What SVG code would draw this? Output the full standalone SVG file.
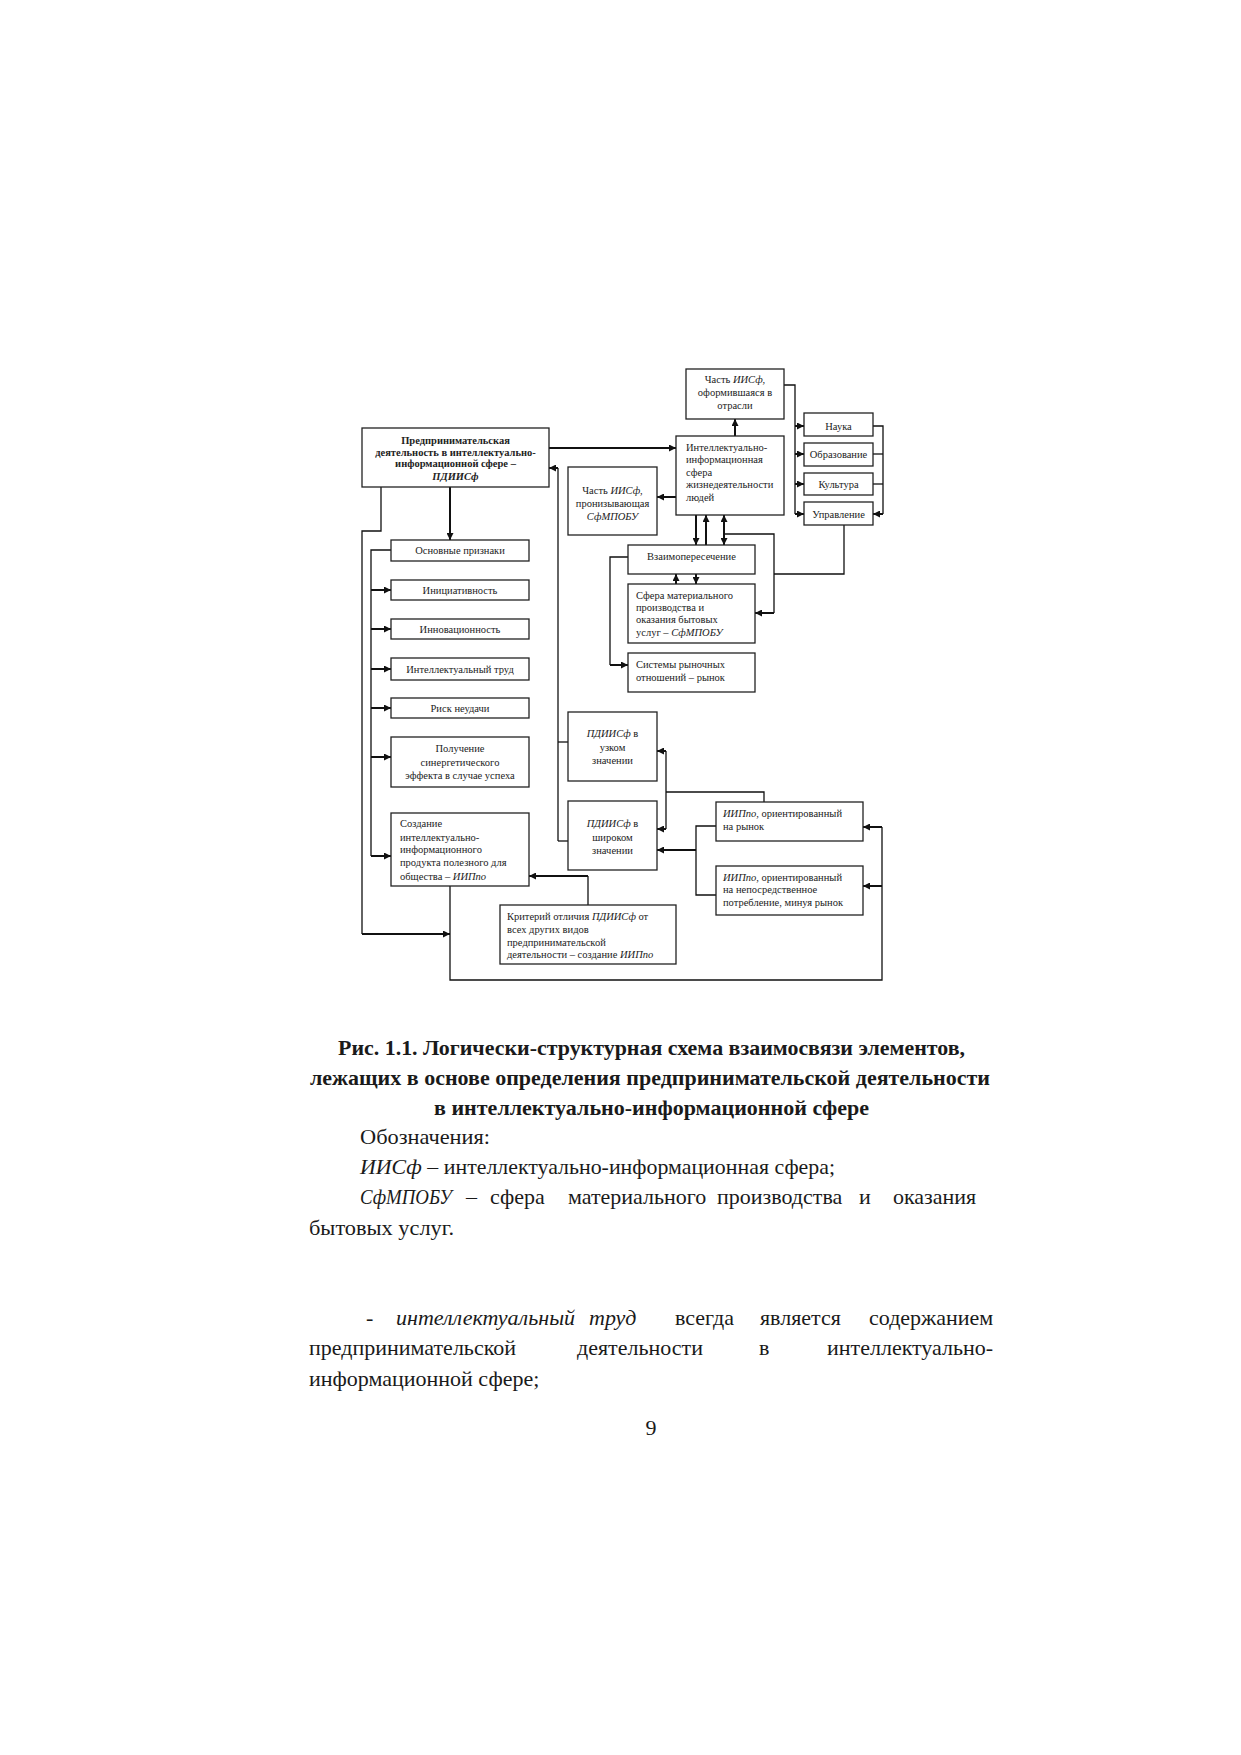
<svg xmlns="http://www.w3.org/2000/svg" width="1241" height="1755" viewBox="0 0 1241 1755">
<defs>
<marker id="ah" viewBox="0 0 10 10" refX="10" refY="5" markerWidth="8" markerHeight="7" markerUnits="userSpaceOnUse" orient="auto-start-reverse"><path d="M0,0 L10,5 L0,10 z" fill="#111"/></marker>
<style>
.box{fill:#fff;stroke:#222;stroke-width:1.3}
.ln{fill:none;stroke:#111;stroke-width:1.3}
.th{stroke-width:2}
.a{marker-end:url(#ah)}
.a2{marker-start:url(#ah);marker-end:url(#ah)}
.t{font-family:"Liberation Serif","Times New Roman",serif;font-size:10.5px;fill:#222}
.c{text-anchor:middle}
.b{font-weight:bold}
.i{font-style:italic}
.cap{font-family:"Liberation Serif","Times New Roman",serif;font-size:22px;font-weight:bold;fill:#1a1a1a}
.body{font-family:"Liberation Serif","Times New Roman",serif;font-size:22px;fill:#1a1a1a}
</style>
</defs>
<rect x="0" y="0" width="1241" height="1755" fill="#fff"/>

<g id="connectors">
<path class="ln th a" d="M549,448 H676"/>
<path class="ln th a" d="M450,487 V540"/>
<path class="ln" d="M381,487 V531 H362 V934"/>
<path class="ln th a" d="M362,934 H450"/>
<path class="ln" d="M391,550 H371 V856"/>
<path class="ln th a" d="M371,590 H391"/>
<path class="ln th a" d="M371,629 H391"/>
<path class="ln th a" d="M371,669 H391"/>
<path class="ln th a" d="M371,708 H391"/>
<path class="ln th a" d="M371,757 H391"/>
<path class="ln th a" d="M371,856 H391"/>
<path class="ln th a" d="M735,436 V419"/>
<path class="ln th a" d="M676,497 H657"/>
<path class="ln" d="M784,385 H795 V514"/>
<path class="ln th a" d="M795,426 H804"/>
<path class="ln th a" d="M795,454 H804"/>
<path class="ln th a" d="M795,484 H804"/>
<path class="ln th a" d="M795,514 H804"/>
<path class="ln" d="M873,426 H883 V514"/>
<path class="ln" d="M873,454 H883"/>
<path class="ln" d="M873,484 H883"/>
<path class="ln th a" d="M883,514 H873"/>
<path class="ln" d="M844,525 V574 H774"/>
<path class="ln" d="M724,534 H774 V613"/>
<path class="ln th a" d="M774,613 H755"/>
<path class="ln th a" d="M696,515 V545"/>
<path class="ln th a" d="M706,545 V515"/>
<path class="ln th a2" d="M724,515 V545"/>
<path class="ln th a" d="M676,584 V574"/>
<path class="ln th a" d="M696,574 V584"/>
<path class="ln" d="M628,557 H610 V665"/>
<path class="ln th a" d="M610,665 H628"/>
<path class="ln" d="M558,841 V468"/>
<path class="ln th a" d="M558,468 H549"/>
<path class="ln" d="M558,742 H568"/>
<path class="ln" d="M558,841 H568"/>
<path class="ln" d="M764,802 V792 H666"/>
<path class="ln" d="M666,751 V829"/>
<path class="ln th a" d="M666,751 H657"/>
<path class="ln th a" d="M666,829 H657"/>
<path class="ln" d="M716,826 H696 V895 H716"/>
<path class="ln th a" d="M696,850 H657"/>
<path class="ln" d="M450,886 V980 H882 V827"/>
<path class="ln th a" d="M882,827 H863"/>
<path class="ln th a" d="M882,886 H863"/>
<path class="ln" d="M588,905 V876"/>
<path class="ln th a" d="M588,876 H529"/>
</g>

<g id="n_pdiisf">
<rect class="box" x="362" y="428" width="187" height="59"/>
<text class="t c b" x="455.5" y="444">Предпринимательская</text>
<text class="t c b" x="455.5" y="456">деятельность в интеллектуально-</text>
<text class="t c b" x="455.5" y="467">информационной сфере –</text>
<text class="t c b i" x="455.5" y="480">ПДИИСф</text>
</g>

<g id="n_otrasli">
<rect class="box" x="686" y="369" width="98" height="50"/>
<text class="t c" x="735" y="383">Часть <tspan class="i">ИИСф</tspan>,</text>
<text class="t c" x="735" y="396">оформившаяся в</text>
<text class="t c" x="735" y="409">отрасли</text>
</g>

<g id="n_iis">
<rect class="box" x="676" y="436" width="108" height="79"/>
<text class="t" x="686" y="451">Интеллектуально-</text>
<text class="t" x="686" y="463">информационная</text>
<text class="t" x="686" y="476">сфера</text>
<text class="t" x="686" y="488">жизнедеятельности</text>
<text class="t" x="686" y="501">людей</text>
</g>

<g id="n_pronizyv">
<rect class="box" x="568" y="467" width="89" height="68"/>
<text class="t c" x="612.5" y="494">Часть <tspan class="i">ИИСф</tspan>,</text>
<text class="t c" x="612.5" y="507">пронизывающая</text>
<text class="t c i" x="612.5" y="520">СфМПОБУ</text>
</g>

<g id="n_nauka">
<rect class="box" x="804" y="413" width="69" height="23"/>
<text class="t c" x="838.5" y="429.5">Наука</text>
</g>
<g id="n_obraz">
<rect class="box" x="804" y="443" width="69" height="23"/>
<text class="t c" x="838.5" y="458">Образование</text>
</g>
<g id="n_kultura">
<rect class="box" x="804" y="473" width="69" height="22"/>
<text class="t c" x="838.5" y="488">Культура</text>
</g>
<g id="n_upravl">
<rect class="box" x="804" y="502" width="69" height="23"/>
<text class="t c" x="838.5" y="517.5">Управление</text>
</g>

<g id="n_osnov">
<rect class="box" x="391" y="540" width="138" height="21"/>
<text class="t c" x="460" y="554">Основные признаки</text>
</g>
<g id="n_inic">
<rect class="box" x="391" y="580" width="138" height="20"/>
<text class="t c" x="460" y="594">Инициативность</text>
</g>
<g id="n_innov">
<rect class="box" x="391" y="619" width="138" height="20"/>
<text class="t c" x="460" y="633">Инновационность</text>
</g>
<g id="n_trud">
<rect class="box" x="391" y="658" width="138" height="22"/>
<text class="t c" x="460" y="673">Интеллектуальный труд</text>
</g>
<g id="n_risk">
<rect class="box" x="391" y="698" width="138" height="20"/>
<text class="t c" x="460" y="712">Риск неудачи</text>
</g>
<g id="n_sinerg">
<rect class="box" x="391" y="737" width="138" height="50"/>
<text class="t c" x="460" y="752">Получение</text>
<text class="t c" x="460" y="766">синергетического</text>
<text class="t c" x="460" y="779">эффекта в случае успеха</text>
</g>
<g id="n_sozd">
<rect class="box" x="391" y="813" width="138" height="73"/>
<text class="t" x="400" y="827">Создание</text>
<text class="t" x="400" y="841">интеллектуально-</text>
<text class="t" x="400" y="853">информационного</text>
<text class="t" x="400" y="866">продукта полезного для</text>
<text class="t" x="400" y="880">общества – <tspan class="i">ИИПпо</tspan></text>
</g>

<g id="n_vzaim">
<rect class="box" x="628" y="545" width="127" height="29"/>
<text class="t c" x="691.5" y="560">Взаимопересечение</text>
</g>
<g id="n_sfmpobu">
<rect class="box" x="628" y="584" width="127" height="59"/>
<text class="t" x="636" y="599">Сфера материального</text>
<text class="t" x="636" y="611">производства и</text>
<text class="t" x="636" y="623">оказания бытовых</text>
<text class="t" x="636" y="636">услуг – <tspan class="i">СфМПОБУ</tspan></text>
</g>
<g id="n_rynok">
<rect class="box" x="628" y="653" width="127" height="39"/>
<text class="t" x="636" y="668">Системы рыночных</text>
<text class="t" x="636" y="681">отношений – рынок</text>
</g>

<g id="n_uzk">
<rect class="box" x="568" y="712" width="89" height="69"/>
<text class="t c" x="612.5" y="737"><tspan class="i">ПДИИСф</tspan> в</text>
<text class="t c" x="612.5" y="751">узком</text>
<text class="t c" x="612.5" y="764">значении</text>
</g>
<g id="n_shir">
<rect class="box" x="568" y="801" width="89" height="69"/>
<text class="t c" x="612.5" y="827"><tspan class="i">ПДИИСф</tspan> в</text>
<text class="t c" x="612.5" y="841">широком</text>
<text class="t c" x="612.5" y="854">значении</text>
</g>

<g id="n_iip_rynok">
<rect class="box" x="716" y="802" width="147" height="39"/>
<text class="t" x="723" y="817"><tspan class="i">ИИПпо</tspan>, ориентированный</text>
<text class="t" x="723" y="830">на рынок</text>
</g>
<g id="n_iip_potr">
<rect class="box" x="716" y="866" width="147" height="49"/>
<text class="t" x="723" y="881"><tspan class="i">ИИПпо</tspan>, ориентированный</text>
<text class="t" x="723" y="893">на непосредственное</text>
<text class="t" x="723" y="906">потребление, минуя рынок</text>
</g>

<g id="n_kriteriy">
<rect class="box" x="500" y="905" width="176" height="59"/>
<text class="t" x="507" y="920">Критерий отличия <tspan class="i">ПДИИСф</tspan> от</text>
<text class="t" x="507" y="933">всех других видов</text>
<text class="t" x="507" y="946">предпринимательской</text>
<text class="t" x="507" y="958">деятельности – создание <tspan class="i">ИИПпо</tspan></text>
</g>

<g id="caption">
<text class="cap" x="338" y="1055" textLength="627" lengthAdjust="spacingAndGlyphs">Рис. 1.1. Логически-структурная схема взаимосвязи элементов,</text>
<text class="cap" x="310" y="1085" textLength="680" lengthAdjust="spacingAndGlyphs">лежащих в основе определения предпринимательской деятельности</text>
<text class="cap" x="434" y="1115" textLength="435" lengthAdjust="spacingAndGlyphs">в интеллектуально-информационной сфере</text>
</g>

<g id="body">
<text class="body" x="360" y="1144" textLength="130" lengthAdjust="spacingAndGlyphs">Обозначения:</text>
<text class="body" x="360" y="1174" textLength="475" lengthAdjust="spacingAndGlyphs"><tspan font-style="italic">ИИСф</tspan> – интеллектуально-информационная сфера;</text>
<text class="body" x="360" y="1204" font-style="italic" font-size="20.5" textLength="92" lengthAdjust="spacingAndGlyphs">СфМПОБУ</text>
<text class="body" x="466" y="1204">–</text>
<text class="body" x="490" y="1204">сфера</text>
<text class="body" x="568" y="1204">материального</text>
<text class="body" x="717" y="1204">производства</text>
<text class="body" x="859" y="1204">и</text>
<text class="body" x="893" y="1204">оказания</text>
<text class="body" x="309" y="1235" textLength="145" lengthAdjust="spacingAndGlyphs">бытовых услуг.</text>
<text class="body" x="366" y="1325">-</text>
<text class="body" x="396" y="1325" font-style="italic">интеллектуальный</text>
<text class="body" x="589" y="1325" font-style="italic">труд</text>
<text class="body" x="675" y="1325">всегда</text>
<text class="body" x="760" y="1325">является</text>
<text class="body" x="869" y="1325">содержанием</text>
<text class="body" x="309" y="1355">предпринимательской</text>
<text class="body" x="577" y="1355">деятельности</text>
<text class="body" x="759" y="1355">в</text>
<text class="body" x="827" y="1355">интеллектуально-</text>
<text class="body" x="309" y="1386">информационной сфере;</text>
<text class="body" x="651" y="1435" text-anchor="middle">9</text>
</g>
</svg>
